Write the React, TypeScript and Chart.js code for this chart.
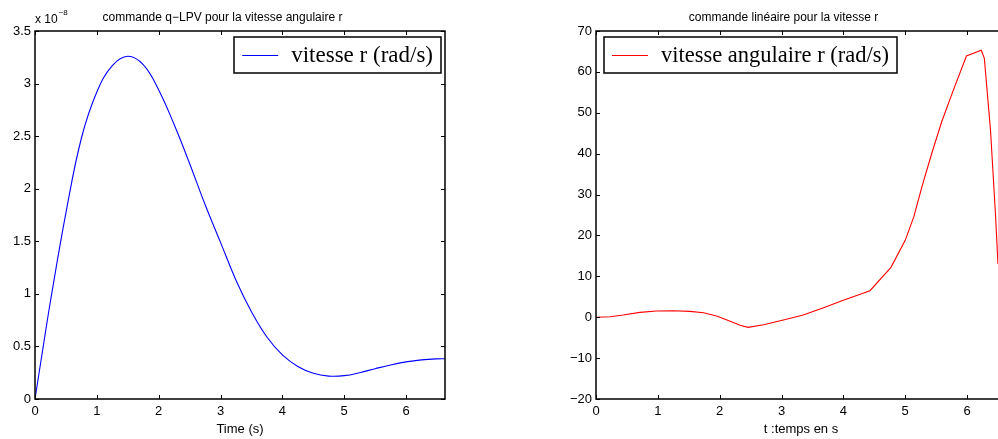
import React, { useEffect, useRef } from "react";
import { Chart, registerables } from "chart.js";

Chart.register(...registerables);

// ---- Left chart: commande q-LPV (values in units of 1e-8 rad/s)
const timeLPV = [0, 0.125, 0.25, 0.5, 0.75, 1.0, 1.25, 1.5, 1.75, 2.0, 2.25, 2.5, 2.75, 3.0, 3.25, 3.5, 3.75, 4.0, 4.25, 4.5, 4.75, 5.0, 5.25, 5.5, 5.75, 6.0, 6.25, 6.5, 6.63];
const vitesseLPV_e8 = [0, 0.47, 0.93, 1.77, 2.48, 2.92, 3.17, 3.26, 3.18, 2.94, 2.61, 2.24, 1.85, 1.49, 1.13, 0.83, 0.59, 0.42, 0.31, 0.245, 0.218, 0.222, 0.25, 0.288, 0.324, 0.353, 0.372, 0.382, 0.383];

// ---- Right chart: commande linéaire
const timeLin = [0, 0.23, 0.44, 0.71, 0.98, 1.25, 1.52, 1.74, 1.95, 2.17, 2.33, 2.46, 2.71, 3.03, 3.35, 3.68, 4.0, 4.43, 4.77, 5.0, 5.14, 5.27, 5.43, 5.59, 5.78, 5.99, 6.23, 6.28, 6.38, 6.46, 6.5];
const vitesseLin = [0, 0.12, 0.54, 1.19, 1.52, 1.6, 1.44, 1.1, 0.29, -1.0, -1.98, -2.47, -1.83, -0.68, 0.54, 2.33, 4.13, 6.48, 12.2, 18.8, 24.6, 31.9, 40.1, 47.8, 55.6, 63.9, 65.3, 63.3, 45.6, 25.2, 13];

const xTicksMax = 6.63;
const leftYTicks = { min: 0, max: 3.5, step: 0.5 };
const rightYTicks = { min: -20, max: 70, step: 10 };

const titleLeft = "commande q\u2212LPV pour la vitesse angulaire r";
const titleRight = "commande lin\u00e9aire pour la vitesse r";
const xLabelLeft = "Time (s)";
const xLabelRight = "t :temps en s";
const legendLeft = "vitesse r (rad/s)";
const legendRight = "vitesse angulaire r (rad/s)";

const SANS = "'Liberation Sans', Arial, Helvetica, sans-serif";
const SERIF = "'Liberation Serif', 'Times New Roman', serif";

const matlabBox = {
  id: "matlabBox",
  afterDraw(chart: any, _args: any, opts: any) {
    const { ctx } = chart;
    const { left, right, top, bottom } = chart.chartArea;
    const xs = chart.scales.x;
    const ys = chart.scales.y;
    ctx.save();
    ctx.strokeStyle = "#000";
    ctx.lineWidth = 1.5;
    const L = Math.round(left);
    const R = Math.round(right);
    const T = Math.round(top);
    const B = Math.round(bottom);
    ctx.beginPath();
    ctx.moveTo(L, T);
    ctx.lineTo(R, T);
    ctx.lineTo(R, B);
    ctx.lineTo(L, B);
    ctx.closePath();
    ctx.stroke();
    ctx.lineWidth = 1;
    const tl = 4;
    ctx.beginPath();
    xs.ticks.forEach((t: any) => {
      const px = Math.round(xs.getPixelForValue(t.value)) + 0.5;
      ctx.moveTo(px, B);
      ctx.lineTo(px, B - tl);
      ctx.moveTo(px, T);
      ctx.lineTo(px, T + tl);
    });
    ys.ticks.forEach((t: any) => {
      const py = Math.round(ys.getPixelForValue(t.value)) + 0.5;
      ctx.moveTo(L, py);
      ctx.lineTo(L + tl, py);
      ctx.moveTo(R, py);
      ctx.lineTo(R - tl, py);
    });
    ctx.stroke();

    // legend box
    const ds = chart.data.datasets[0];
    ctx.font = `${opts.legendSize}px ${SERIF}`;
    const tw = ctx.measureText(ds.label).width;
    const bw = 8 + 36 + 13 + tw + 8;
    const bh = 36;
    const bx = opts.legendAlign === "right" ? right - 4 - bw : left + 8;
    const by = top + 6;
    ctx.fillStyle = "#fff";
    ctx.fillRect(bx, by, bw, bh);
    ctx.lineWidth = 1.5;
    ctx.strokeStyle = "#000";
    ctx.strokeRect(Math.round(bx), Math.round(by), Math.round(bw), bh);
    ctx.strokeStyle = ds.borderColor;
    ctx.lineWidth = 1;
    ctx.beginPath();
    ctx.moveTo(bx + 8, Math.round(by + bh / 2) + 0.5);
    ctx.lineTo(bx + 44, Math.round(by + bh / 2) + 0.5);
    ctx.stroke();
    ctx.fillStyle = "#000";
    ctx.textBaseline = "middle";
    ctx.textAlign = "left";
    ctx.fillText(ds.label, bx + 57, by + bh / 2 + 1);

    if (opts.exponent) {
      ctx.textBaseline = "alphabetic";
      ctx.font = `12px ${SANS}`;
      ctx.fillText("x 10", left, 23);
      const w = ctx.measureText("x 10").width;
      ctx.font = `8px ${SANS}`;
      ctx.fillText(opts.exponent, left + w + 1, 15);
    }
    ctx.restore();
  },
};

const fmt = (v: number) => String(+v.toFixed(2)).replace("-", "\u2212");

function makeConfig(
  xs: number[],
  ys: number[],
  label: string,
  color: string,
  title: string,
  xLabel: string,
  yT: { min: number; max: number; step: number },
  legendAlign: string,
  legendSize: number,
  exponent: string | null,
  tension: number
): any {
  return {
    type: "line",
    data: {
      datasets: [
        {
          label,
          data: xs.map((x, i) => ({ x, y: ys[i] })),
          borderColor: color,
          backgroundColor: color,
          borderWidth: 1.1,
          pointRadius: 0,
          tension,
          fill: false,
        },
      ],
    },
    options: {
      animation: false,
      responsive: false,
      layout: { padding: { left: 0, right: 16, top: 0, bottom: 0 } },
      plugins: {
        legend: { display: false },
        tooltip: { enabled: false },
        title: {
          display: true,
          text: title,
          color: "#000",
          font: { family: SANS, size: 12, weight: "normal" },
          padding: { top: 10, bottom: 6.6 },
        },
        matlabBox: { legendAlign, legendSize, exponent },
      },
      scales: {
        x: {
          type: "linear",
          min: 0,
          max: xTicksMax,
          grid: { display: false, drawTicks: false },
          border: { display: false },
          ticks: {
            stepSize: 1,
            includeBounds: false,
            color: "#000",
            padding: 5,
            font: { family: SANS, size: 13 },
            maxRotation: 0,
            callback: (v: number) => fmt(v),
          },
          title: {
            display: true,
            text: xLabel,
            color: "#000",
            font: { family: SANS, size: 13 },
            padding: { top: 0, bottom: 2 },
          },
          afterFit: (s: any) => {
            s.height = 40;
          },
        },
        y: {
          type: "linear",
          min: yT.min,
          max: yT.max,
          grid: { display: false, drawTicks: false },
          border: { display: false },
          ticks: {
            stepSize: yT.step,
            color: "#000",
            padding: 4,
            font: { family: SANS, size: 13 },
            callback: (v: number) => fmt(v),
          },
          afterFit: (s: any) => {
            s.width = 35;
          },
        },
      },
    },
    plugins: [matlabBox],
  };
}

function ChartCanvas({ config, left, width }: { config: any; left: number; width: number }) {
  const ref = useRef<HTMLCanvasElement | null>(null);
  useEffect(() => {
    if (!ref.current) return;
    const chart = new Chart(ref.current, config);
    return () => chart.destroy();
  }, [config]);
  return (
    <canvas
      ref={ref}
      width={width}
      height={439}
      style={{ position: "absolute", left, top: 0, width, height: 439 }}
    />
  );
}

const leftConfig = makeConfig(timeLPV, vitesseLPV_e8, legendLeft, "#0000ff", titleLeft, xLabelLeft, leftYTicks, "right", 23, "\u22128", 0.4);
const rightConfig = makeConfig(timeLin, vitesseLin, legendRight, "#ff0000", titleRight, xLabelRight, rightYTicks, "left", 22.5, null, 0);

export default function App() {
  return (
    <div
      style={{
        position: "fixed",
        left: 0,
        top: 0,
        width: 998,
        height: 439,
        overflow: "hidden",
        background: "#fff",
      }}
    >
      <ChartCanvas config={leftConfig} left={0} width={461} />
      <ChartCanvas config={rightConfig} left={561} width={461} />
    </div>
  );
}
